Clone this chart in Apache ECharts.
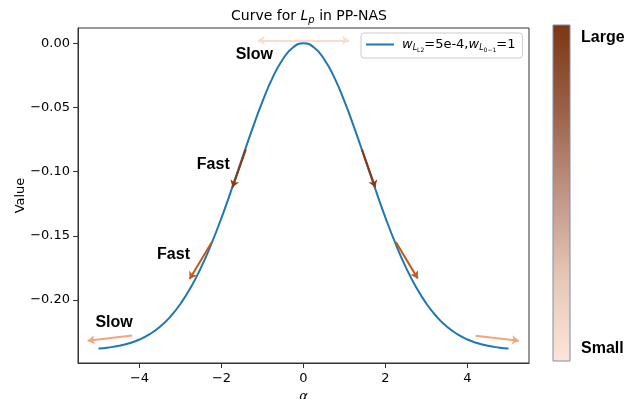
<!DOCTYPE html>
<html>
<head>
<meta charset="utf-8">
<script src="https://cdn.jsdelivr.net/npm/echarts@6/dist/echarts.min.js"></script>
<style>
html,body{margin:0;padding:0;background:#fff;}
#c{width:636px;height:399px;}
</style>
</head>
<body>
<div id="c"></div>
<script>
// ---- data ----
const alpha = [-5, -4.75, -4.5, -4.25, -4, -3.75, -3.5, -3.25, -3, -2.75, -2.5, -2.25, -2, -1.75, -1.5, -1.25, -1, -0.75, -0.5, -0.25, 0,
  0.25, 0.5, 0.75, 1, 1.25, 1.5, 1.75, 2, 2.25, 2.5, 2.75, 3, 3.25, 3.5, 3.75, 4, 4.25, 4.5, 4.75, 5];
const values = [-0.2378, -0.2369, -0.2356, -0.2336, -0.2307, -0.2265, -0.2208, -0.2130, -0.2029, -0.1902, -0.1747, -0.1565, -0.1359, -0.1134, -0.0900, -0.0669, -0.0453, -0.0266, -0.0122, -0.0031, 0,
  -0.0031, -0.0122, -0.0266, -0.0453, -0.0669, -0.0900, -0.1134, -0.1359, -0.1565, -0.1747, -0.1902, -0.2029, -0.2130, -0.2208, -0.2265, -0.2307, -0.2336, -0.2356, -0.2369, -0.2378];
const xTicks = [-4, -2, 0, 2, 4];
const yTicks = [0, -0.05, -0.10, -0.15, -0.20];

// annotation arrows (data coordinates): start, end
const arrowStarts = [[-1.407, -0.0826], [1.424, -0.0826], [-2.239, -0.155], [2.256, -0.155], [-4.18, -0.2275], [4.196, -0.2278]];
const arrowEnds   = [[-1.732, -0.1122], [1.749, -0.1122], [-2.777, -0.1836], [2.784, -0.1831], [-5.265, -0.2317], [5.254, -0.2317]];
const arrowLevels = ['fast', 'fast', 'mid', 'mid', 'slow', 'slow'];
const topArrow = [[-1.113, 0.0023], [1.113, 0.0023]];
const noteTexts = ['Slow', 'Fast', 'Fast', 'Slow'];
const notePos = [[-1.2, -0.0091], [-2.2, -0.0948], [-3.17, -0.1649], [-4.62, -0.2179]];

// ---- styles ----
const levelColor = { fast: '#8b3a10', mid: '#c5581a', slow: '#f4a57c' };
const FONT = '"DejaVu Sans", sans-serif';
const BOLD = '"Liberation Sans", Arial, sans-serif';

const chart = echarts.init(document.getElementById('c'), null, { renderer: 'canvas' });

const lineData = alpha.map((a, i) => [a, values[i]]);
const arrowData = arrowStarts.map((s, i) => ({
  coords: [s, arrowEnds[i]],
  lineStyle: { color: levelColor[arrowLevels[i]] }
}));

const fmtNum = (v, d) => (v < -1e-9 ? '\u2212' : '') + Math.abs(v).toFixed(d);

chart.setOption({
  animation: false,
  title: {
    text: '{n|Curve for }{i|L}{s|p}{n| in PP-NAS}',
    left: 304, top: 3, textAlign: 'center',
    textStyle: {
      fontWeight: 'normal',
      rich: {
        n: { fontFamily: FONT, fontSize: 14, fontWeight: 'normal', color: '#000' },
        i: { fontFamily: FONT, fontSize: 14, fontWeight: 'normal', fontStyle: 'italic', color: '#000' },
        s: { fontFamily: FONT, fontSize: 10, fontWeight: 'normal', fontStyle: 'italic', color: '#000', padding: [7, 0, 0, 0] }
      }
    }
  },
  legend: {
    data: ['curve'],
    left: 361, top: 33,
    padding: [5, 7, 5, 5],
    itemWidth: 28, itemHeight: 2, itemGap: 0,
    icon: 'rect',
    borderColor: '#cccccc', borderWidth: 1, borderRadius: 3,
    formatter: () => '{w|w}{a|L}{b|L2}{n|=5e-4,}{w|w}{a|L}{b|0\u22121}{n|=1}',
    textStyle: {
      padding: [0, 0, 0, 3],
      rich: {
        w: { fontFamily: FONT, fontSize: 13, fontStyle: 'italic', color: '#000' },
        a: { fontFamily: FONT, fontSize: 8, fontStyle: 'italic', color: '#000', padding: [7, 0, 0, 0] },
        b: { fontFamily: FONT, fontSize: 6, color: '#000', padding: [11, 0, 0, 0] },
        n: { fontFamily: FONT, fontSize: 13, color: '#000' }
      }
    }
  },
  grid: {
    left: 78, right: 107, top: 28, bottom: 36,
    outerBoundsMode: 'none', containLabel: false,
    show: true, borderColor: '#333', borderWidth: 1
  },
  xAxis: {
    type: 'value', min: -5.5, max: 5.5,
    name: 'α', nameLocation: 'middle', nameGap: 27,
    nameTextStyle: { fontFamily: FONT, fontSize: 13, fontStyle: 'italic', color: '#000' },
    axisLine: { show: true, onZero: false, lineStyle: { color: '#333' } },
    axisTick: { show: true, inside: false, length: 5, customValues: xTicks, lineStyle: { color: '#333' } },
    axisLabel: { customValues: xTicks, margin: 9, fontFamily: FONT, fontSize: 13, color: '#000',
      formatter: v => fmtNum(v, 0) },
    splitLine: { show: false }
  },
  yAxis: {
    type: 'value', min: -0.249, max: 0.0119,
    name: 'Value', nameLocation: 'middle', nameGap: 51, nameRotate: 90, nameMoveOverlap: false,
    nameTextStyle: { fontFamily: FONT, fontSize: 13, color: '#000' },
    axisLine: { show: true, onZero: false, lineStyle: { color: '#333' } },
    axisTick: { show: true, inside: false, length: 5, customValues: yTicks, lineStyle: { color: '#333' } },
    axisLabel: { customValues: yTicks, margin: 8, fontFamily: FONT, fontSize: 13, color: '#000',
      formatter: v => fmtNum(v, 2) },
    splitLine: { show: false }
  },
  series: [
    {
      name: 'curve', type: 'line', data: lineData, showSymbol: false, smooth: true,
      lineStyle: { color: '#1f77b4', width: 2 }, itemStyle: { color: '#1f77b4' }, z: 3
    },
    {
      type: 'lines', coordinateSystem: 'cartesian2d', polyline: false,
      symbol: ['none', 'arrow'], symbolSize: 7,
      lineStyle: { width: 2, opacity: 1 },
      data: arrowData, z: 4
    },
    {
      type: 'lines', coordinateSystem: 'cartesian2d', polyline: false,
      symbol: ['arrow', 'arrow'], symbolSize: 7,
      lineStyle: { width: 2, opacity: 1, color: '#f9dccb' },
      data: [{ coords: topArrow }], z: 4
    },
    {
      type: 'scatter', symbolSize: 0, silent: true,
      itemStyle: { opacity: 1, color: '#000' },
      data: notePos.map((p, i) => ({ value: p, name: noteTexts[i] })),
      label: { show: true, position: 'inside', formatter: p => p.name, opacity: 1,
        textBorderWidth: 0, fontFamily: BOLD, fontWeight: 'bold', fontSize: 16, color: '#000' },
      z: 5
    }
  ],
  graphic: [
    {
      type: 'rect',
      shape: { x: 553, y: 25, width: 17, height: 336 },
      style: {
        fill: new echarts.graphic.LinearGradient(0, 0, 0, 1, [
          { offset: 0, color: '#7c3712' },
          { offset: 0.25, color: '#9a6048' },
          { offset: 0.5, color: '#c09484' },
          { offset: 0.75, color: '#e6c7b6' },
          { offset: 1, color: '#fbe6d9' }
        ]),
        stroke: '#7f8cb0', lineWidth: 1
      }
    },
    {
      type: 'text', left: 581, top: 30,
      style: { text: 'Large', fontFamily: BOLD, fontWeight: 'bold', fontSize: 16, fill: '#000' }
    },
    {
      type: 'text', left: 581, top: 341,
      style: { text: 'Small', fontFamily: BOLD, fontWeight: 'bold', fontSize: 16, fill: '#000' }
    }
  ]
});
</script>
</body>
</html>
